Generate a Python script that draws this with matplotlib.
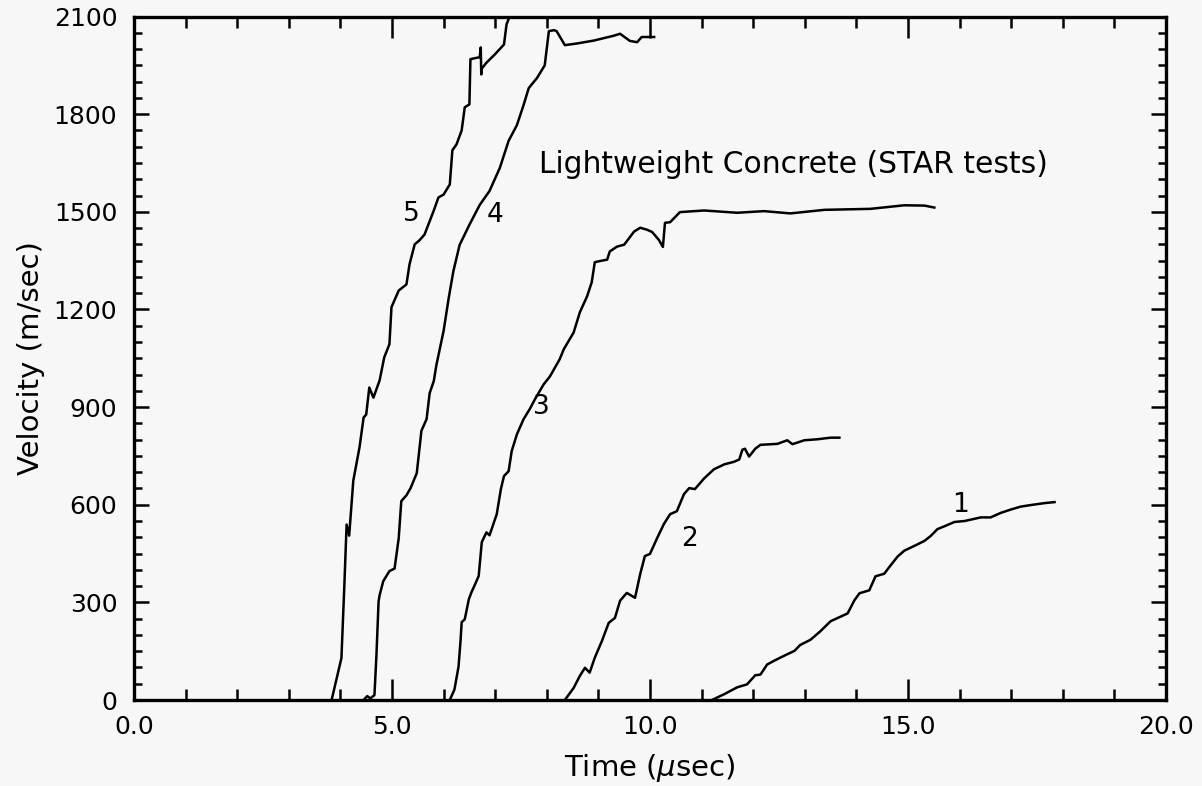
import numpy as np
import matplotlib
matplotlib.use("Agg")
import matplotlib.pyplot as plt  # noqa: E402
from matplotlib.ticker import MultipleLocator, FormatStrFormatter  # noqa: E402

# free-surface velocity histories, time in usec, velocity in m/s
t1 = [11.20, 11.44, 11.69, 11.88, 12.04, 12.14, 12.27, 12.41, 12.60, 12.80,
      12.91, 13.11, 13.30, 13.50, 13.83, 13.96, 14.06, 14.25, 14.37, 14.54,
      14.66, 14.80, 14.93, 15.13, 15.32, 15.44, 15.57, 15.71, 15.90, 16.10,
      16.41, 16.60, 16.80, 16.99, 17.18, 17.38, 17.65, 17.84]
v1 = [0, 18, 39, 48, 76, 78, 109, 121, 136, 151,
      169, 185, 211, 242, 266, 306, 328, 337, 380, 388,
      413, 441, 459, 474, 489, 504, 525, 534, 547, 550,
      561, 561, 575, 585, 594, 599, 605, 608]

t2 = [8.35, 8.52, 8.64, 8.74, 8.83, 8.93, 9.07, 9.20, 9.32, 9.42,
      9.55, 9.71, 9.81, 9.90, 10.00, 10.14, 10.27, 10.39, 10.52, 10.66,
      10.76, 10.87, 11.05, 11.24, 11.44, 11.63, 11.73, 11.79, 11.84, 11.92,
      12.04, 12.14, 12.47, 12.66, 12.76, 12.99, 13.24, 13.50, 13.67]
v2 = [0, 37, 74, 99, 84, 130, 182, 237, 252, 305,
      329, 314, 387, 442, 449, 498, 541, 571, 580, 633,
      651, 648, 681, 709, 724, 732, 739, 769, 772, 748,
      772, 784, 787, 798, 786, 798, 801, 806, 806]

t3 = [6.12, 6.21, 6.29, 6.33, 6.35, 6.41, 6.49, 6.54, 6.62, 6.68,
      6.74, 6.83, 6.89, 7.03, 7.11, 7.17, 7.26, 7.32, 7.42, 7.55,
      7.67, 7.77, 7.94, 8.06, 8.25, 8.33, 8.52, 8.64, 8.78, 8.87,
      8.93, 9.01, 9.17, 9.22, 9.36, 9.50, 9.69, 9.81, 9.94, 10.04,
      10.17, 10.25, 10.29, 10.39, 10.58, 11.05, 11.69, 12.21, 12.72, 13.38,
      14.27, 14.93, 15.32, 15.51]
v3 = [0, 32, 103, 186, 239, 248, 310, 331, 359, 381,
      485, 515, 506, 571, 648, 688, 703, 765, 816, 863,
      894, 924, 970, 994, 1047, 1078, 1129, 1191, 1240, 1283,
      1345, 1348, 1353, 1378, 1393, 1399, 1439, 1451, 1445, 1438,
      1414, 1392, 1466, 1468, 1499, 1504, 1497, 1502, 1495, 1506,
      1509, 1520, 1519, 1513]

t4 = [4.45, 4.52, 4.58, 4.66, 4.70, 4.74, 4.76, 4.83, 4.95, 5.05,
      5.13, 5.18, 5.28, 5.36, 5.48, 5.57, 5.67, 5.73, 5.81, 5.86,
      6.00, 6.10, 6.19, 6.31, 6.50, 6.70, 6.89, 7.09, 7.26, 7.42,
      7.55, 7.65, 7.81, 7.96, 8.04, 8.14, 8.19, 8.35, 8.58, 8.91,
      9.30, 9.42, 9.61, 9.75, 9.84, 10.08]
v4 = [0, 12, 5, 15, 143, 303, 322, 365, 396, 404,
      497, 611, 629, 651, 697, 827, 863, 943, 980, 1029,
      1134, 1236, 1318, 1398, 1460, 1521, 1564, 1635, 1718, 1766,
      1828, 1880, 1911, 1950, 2055, 2058, 2055, 2012, 2017, 2026,
      2041, 2047, 2025, 2021, 2037, 2037]

t5 = [3.83, 4.02, 4.08, 4.12, 4.17, 4.25, 4.37, 4.45, 4.50, 4.56,
      4.64, 4.76, 4.85, 4.95, 4.99, 5.13, 5.28, 5.34, 5.44, 5.53,
      5.63, 5.81, 5.90, 6.00, 6.12, 6.17, 6.25, 6.35, 6.41, 6.50,
      6.52, 6.70, 6.72, 6.73, 6.74, 6.83, 6.99, 7.17, 7.22, 7.28]
v5 = [0, 129, 366, 539, 505, 674, 776, 868, 877, 960,
      929, 982, 1053, 1093, 1207, 1258, 1277, 1339, 1400, 1412,
      1430, 1504, 1544, 1553, 1584, 1689, 1707, 1750, 1821, 1830,
      1969, 1975, 2005, 1922, 1940, 1958, 1983, 2014, 2076, 2100]

curve_labels = ["1", "2", "3", "4", "5"]
label_t = [16.02, 10.76, 7.90, 6.99, 5.38]
label_v = [600, 494, 899, 1490, 1493]

title = "Lightweight Concrete (STAR tests)"

plt.rcParams["font.family"] = ["DejaVu Sans"]
TICK_FS = 18
LABEL_FS = 21

fig = plt.figure(figsize=(12.02, 7.86), dpi=100, facecolor="#f7f7f7")
ax = fig.add_axes([134 / 1202, 1 - 700 / 786, (1166 - 134) / 1202,
                   (700 - 16.5) / 786])
ax.set_facecolor("#f7f7f7")

for t, v in ((t1, v1), (t2, v2), (t3, v3), (t4, v4), (t5, v5)):
    ax.plot(t, v, color="black", lw=1.8, solid_joinstyle="round")

for lab, x, y in zip(curve_labels, label_t, label_v):
    ax.text(x, y, lab, fontsize=19, ha="center", va="center")

ax.text(12.78, 1646, title, fontsize=21.4, ha="center", va="center")

ax.set_xlim(0, 20)
ax.set_ylim(0, 2100)
ax.xaxis.set_major_locator(MultipleLocator(5))
ax.xaxis.set_minor_locator(MultipleLocator(1))
ax.xaxis.set_major_formatter(FormatStrFormatter("%.1f"))
ax.yaxis.set_major_locator(MultipleLocator(300))
ax.yaxis.set_minor_locator(MultipleLocator(50))

for s in ax.spines.values():
    s.set_linewidth(2.4)

ax.tick_params(axis="both", which="both", direction="in", top=True,
               right=True, width=1.8, labelsize=TICK_FS, colors="black")
ax.tick_params(axis="x", which="major", length=15, pad=11)
ax.tick_params(axis="x", which="minor", length=8)
ax.tick_params(axis="y", which="major", length=11, pad=12)
ax.tick_params(axis="y", which="minor", length=6)

ax.set_xlabel(r"Time ($\mu$sec)", fontsize=LABEL_FS, labelpad=9)
ax.set_ylabel("Velocity (m/sec)", fontsize=LABEL_FS, labelpad=6)

fig.savefig("out.png", dpi=100, facecolor=fig.get_facecolor())
